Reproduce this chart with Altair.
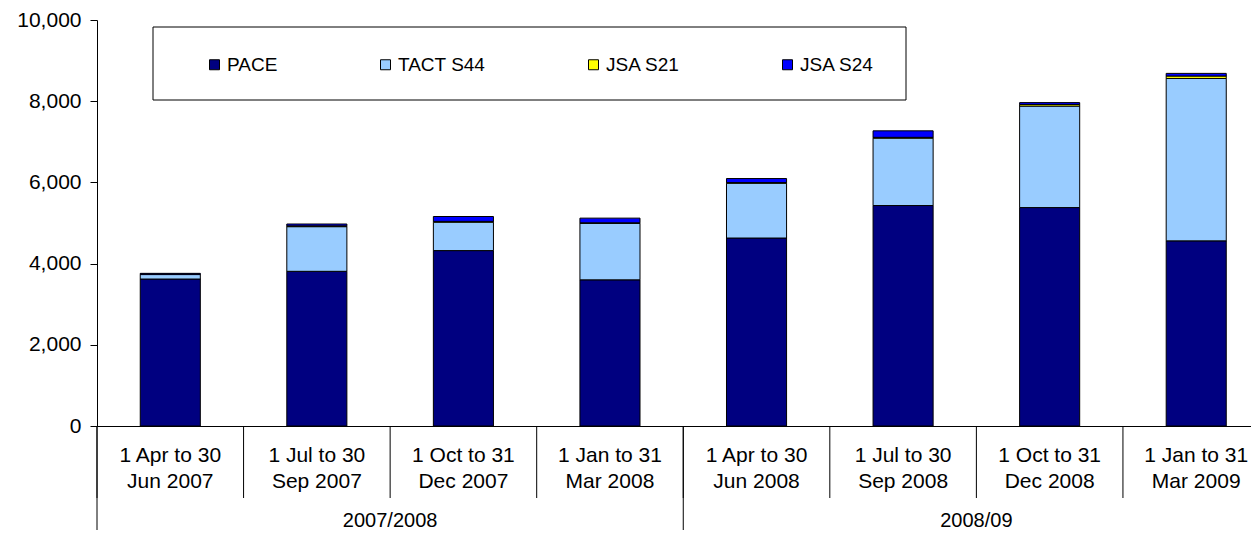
import altair as alt
import pandas as pd

periods = [
    "1 Apr to 30|Jun 2007", "1 Jul to 30|Sep 2007", "1 Oct to 31|Dec 2007", "1 Jan to 31|Mar 2008",
    "1 Apr to 30|Jun 2008", "1 Jul to 30|Sep 2008", "1 Oct to 31|Dec 2008", "1 Jan to 31|Mar 2009",
]
years = ["2007/2008", "2008/09"]
year_first = [0, 4]
series = ["PACE", "TACT S44", "JSA S21", "JSA S24"]
pace = [3620, 3810, 4320, 3600, 4630, 5430, 5380, 4560]
tact = [110, 1100, 700, 1390, 1350, 1660, 2500, 4000]
jsa21 = [10, 20, 20, 15, 15, 20, 40, 60]
jsa24 = [20, 45, 120, 115, 100, 160, 45, 65]
colors = ["#000080", "#99CCFF", "#FFFF00", "#0000FF"]
y_ticks = [0, 2000, 4000, 6000, 8000, 10000]

FONT = "Liberation Sans"

rows = []
for s_i, (name, vals) in enumerate(zip(series, [pace, tact, jsa21, jsa24])):
    for p, v in zip(periods, vals):
        rows.append({"period": p, "series": name, "value": v, "ord": s_i})
df = pd.DataFrame(rows)

sep_df = pd.DataFrame({"period": periods})
grp_sep_df = pd.DataFrame({"period": [periods[i] for i in year_first]})
grp_lbl_df = pd.DataFrame({"period": [periods[i + 2] for i in year_first], "year": years})
frame_df = pd.DataFrame({"k": [0]})

x_scale = alt.Scale(domain=periods, range=[0, 1172.5], paddingInner=0, paddingOuter=0)

frame = alt.Chart(frame_df).mark_rect(fill="white", stroke="black", strokeWidth=1).encode(
    x=alt.value(56), x2=alt.value(809), y=alt.value(7), y2=alt.value(80)
)

bars = alt.Chart(df).mark_bar(stroke="black", strokeWidth=1, width={"band": 0.41}).encode(
    x=alt.X(
        "period:N", sort=periods, scale=x_scale,
        axis=alt.Axis(
            title=None, labelExpr="split(datum.label, '|')", labelAngle=0, ticks=False,
            domainColor="black", labelColor="black", labelFont=FONT, labelFontSize=21,
            labelPadding=18, labelLineHeight=26, labelOverlap=False, labelLimit=0,
        ),
    ),
    y=alt.Y(
        "value:Q", stack="zero", scale=alt.Scale(domain=[0, 10000]),
        axis=alt.Axis(
            title=None, values=y_ticks, format=",.0f", grid=False, tickSize=7, tickColor="black",
            domainColor="black", labelColor="black", labelFont=FONT, labelFontSize=21, labelPadding=9,
        ),
    ),
    color=alt.Color(
        "series:N", scale=alt.Scale(domain=series, range=colors),
        legend=alt.Legend(
            title=None, orient="none", legendX=108, legendY=35, direction="horizontal",
            columnPadding=98, symbolType="square", symbolSize=100, symbolStrokeColor="black",
            symbolStrokeWidth=1, symbolOpacity=1, labelFont=FONT, labelFontSize=19,
            labelColor="black", labelOffset=3,
        ),
    ),
    order=alt.Order("ord:Q"),
)

seps = alt.Chart(sep_df).mark_rule(color="black", strokeWidth=1).encode(
    x=alt.X("period:N", sort=periods, bandPosition=0),
    y=alt.value(406), y2=alt.value(478),
)

grp_seps = alt.Chart(grp_sep_df).mark_rule(color="black", strokeWidth=1).encode(
    x=alt.X("period:N", sort=periods, bandPosition=0),
    y=alt.value(406), y2=alt.value(530),
)

grp_lbls = alt.Chart(grp_lbl_df).mark_text(
    font=FONT, fontSize=20, color="black", baseline="middle", align="center"
).encode(
    x=alt.X("period:N", sort=periods, bandPosition=0),
    y=alt.value(501),
    text="year:N",
)

chart = alt.layer(frame, bars, seps, grp_seps, grp_lbls).properties(
    width=1154, height=406,
    padding={"left": 89, "top": 12, "right": 0, "bottom": 104},
    autosize=alt.AutoSizeParams(type="none"),
).configure_view(stroke=None)

chart.save("out.html", embed_options={"renderer": "svg", "actions": False})
